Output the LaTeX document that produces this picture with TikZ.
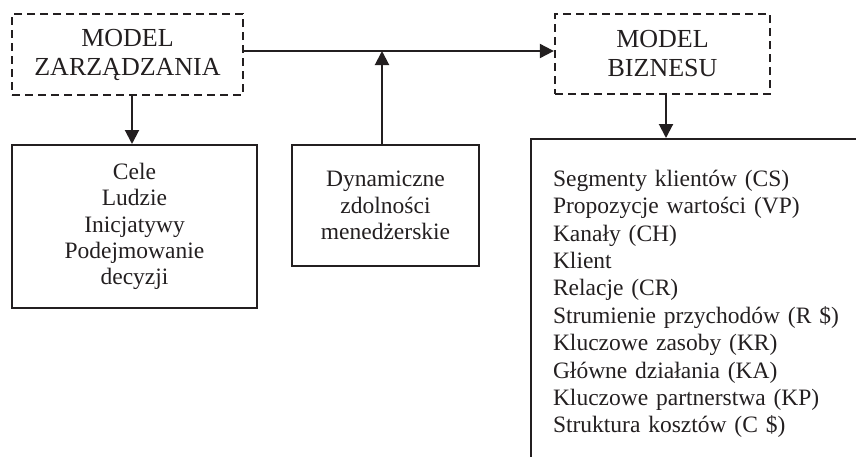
\documentclass[tikz,border=0pt]{standalone}
\usepackage{fontspec}
\setmainfont{Liberation Serif}
\usetikzlibrary{arrows.meta,positioning}
\definecolor{ink}{RGB}{35,31,32}
\tikzset{
  dbox/.style={draw=ink,line width=2.3pt,dash pattern=on 8pt off 5pt,align=center,inner sep=0pt,text=ink,font=\fontsize{26}{29}\selectfont},
  sbox/.style={draw=ink,line width=2pt,align=center,inner sep=0pt,text=ink,font=\fontsize{23.5}{26.2}\selectfont},
  arr/.style={draw=ink,line width=2pt,-{Triangle[length=14pt,width=14pt]}},
}
\begin{document}
\begin{tikzpicture}[x=1pt,y=-1pt]
  \useasboundingbox (0,0) rectangle (856,456);
  \node[dbox,minimum width=231pt,minimum height=81pt] (mz) at (127.5,54.5) {MODEL\\[0pt]ZARZĄDZANIA};
  \node[dbox,minimum width=215pt,minimum height=80pt] (mb) at (662.5,54) {MODEL\\[0pt]BIZNESU};
  \node[sbox,minimum width=245pt,minimum height=163pt] (cl) at (134.5,226.5)
    {Cele\\[0pt]Ludzie\\[0pt]Inicjatywy\\[0pt]Podejmowanie\\[0pt]decyzji};
  \node[sbox,minimum width=187pt,minimum height=121pt] (dz) at (385.5,205.5)
    {Dynamiczne\\[0pt]zdolności\\[0pt]menedżerskie};
  \node[sbox,align=left,anchor=north west,inner xsep=22pt,inner ysep=31pt,text width=330pt,
        font=\fontsize{23.5}{27.4}\selectfont] (bm) at (530,138)
    {Segmenty klientów (CS)\\[0pt]Propozycje wartości (VP)\\[0pt]Kanały (CH)\\[0pt]Klient\\[0pt]
     Relacje (CR)\\[0pt]Strumienie przychodów (R \$)\\[0pt]Kluczowe zasoby (KR)\\[0pt]
     Główne działania (KA)\\[0pt]Kluczowe partnerstwa (KP)\\[0pt]Struktura kosztów (C \$)};
  \coordinate (hl) at (0,51);

  \draw[arr] (mz.east |- hl) -- (mb.west |- hl);
  \draw[arr] ([xshift=-3.5pt]dz.north) -- ([xshift=-3.5pt]dz.north |- hl);
  \draw[arr] ([xshift=4.5pt]mz.south) -- ([xshift=4.5pt]mz.south |- cl.north);
  \draw[arr] ([xshift=3.5pt]mb.south) -- ([xshift=3.5pt]mb.south |- bm.north);
\end{tikzpicture}
\end{document}
